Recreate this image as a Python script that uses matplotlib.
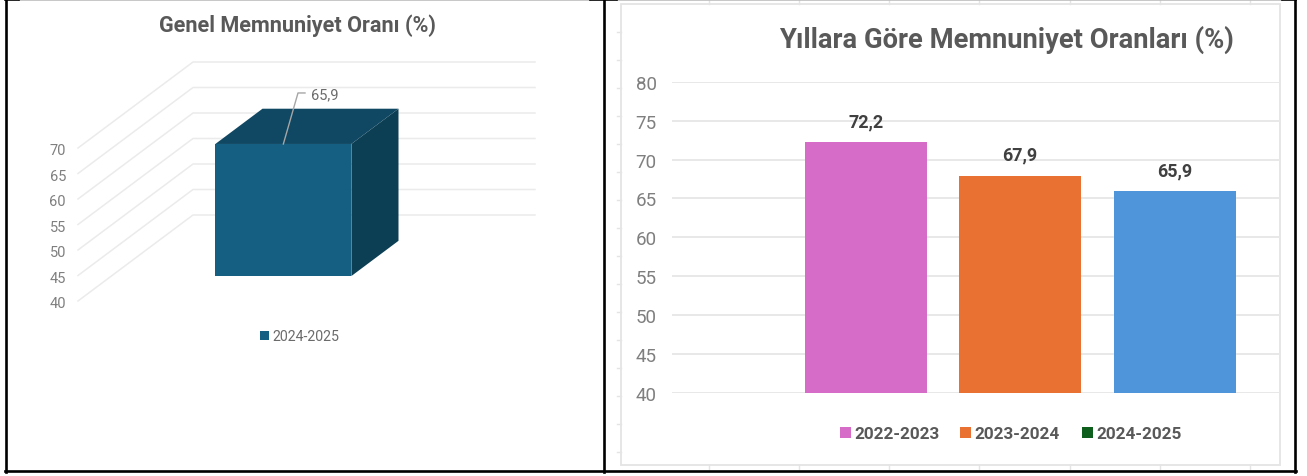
import matplotlib
matplotlib.use("Agg")
import matplotlib.pyplot as plt
from matplotlib.lines import Line2D
from matplotlib.patches import Polygon, Rectangle

# Data
left_title = "Genel Memnuniyet Oranı (%)"
left_ticks = [40, 45, 50, 55, 60, 65, 70]
left_year = "2024-2025"
left_value = 65.9
left_label = "65,9"

right_title = "Yıllara Göre Memnuniyet Oranları (%)"
right_ticks = [40, 45, 50, 55, 60, 65, 70, 75, 80]
years = ["2022-2023", "2023-2024", "2024-2025"]
values = [72.2, 67.9, 65.9]
value_labels = ["72,2", "67,9", "65,9"]

W, H = 1307, 477
plt.rcParams["font.family"] = ["Roboto", "DejaVu Sans"]
fig = plt.figure(figsize=(W / 100, H / 100), dpi=100, facecolor="white")


def make_axes(x0, y0, x1, y1):
    # pixel box, y measured from the top
    return fig.add_axes([x0 / W, 1 - y1 / H, (x1 - x0) / W, (y1 - y0) / H])


def fig_line(xs, ys, color, lw):
    fig.add_artist(Line2D([x / W for x in xs], [1 - y / H for y in ys], color=color, lw=lw))


# --------------------------------------------------
# Left chart : 3D looking column
# --------------------------------------------------
ax = make_axes(78, 61, 535, 302)
ax.set_xlim(78, 535)
ax.set_ylim(40, 40 + 241 / 5.1)
ax.axis("off")

depth_x = 115
depth_y = 86 / 5.1


def wall(x, value, depth):
    return x + depth * depth_x, value + depth * depth_y


for t in left_ticks:
    x0, y0 = wall(78, t, 0)
    x1, y1 = wall(78, t, 1)
    ax.plot([x0, x1, 535], [y0, y1, y1], color="#ebebeb", lw=1.1, zorder=1, clip_on=False)
    ax.text(66, t - 0.45, str(t), ha="right", va="center", fontsize=10.5, color="#7f7f7f", clip_on=False)

bar_left, bar_right = 182, 318
d0, d1 = 0.29, 0.70
front = [wall(bar_left, 40, d0), wall(bar_right, 40, d0), wall(bar_right, left_value, d0), wall(bar_left, left_value, d0)]
side = [wall(bar_right, 40, d0), wall(bar_right, 40, d1), wall(bar_right, left_value, d1), wall(bar_right, left_value, d0)]
top = [wall(bar_left, left_value, d0), wall(bar_right, left_value, d0), wall(bar_right, left_value, d1), wall(bar_left, left_value, d1)]
ax.add_patch(Polygon(side, fc="#0c3f53", ec="none", zorder=2))
ax.add_patch(Polygon(top, fc="#104762", ec="none", zorder=2))
ax.add_patch(Polygon(front, fc="#156082", ec="none", zorder=3))

# leader from the front edge of the column up to its label
mid = (front[2][0] + front[3][0]) / 2
label_y = front[2][1] + 10
ax.plot([mid, 298, 305], [front[2][1], label_y, label_y], color="#a6a6a6", lw=1, zorder=4, clip_on=False)
ax.text(311, label_y - 0.2, left_label, ha="left", va="center", fontsize=10.5, color="#6b6b6b", clip_on=False)

fig.text(297 / W, 1 - 26 / H, left_title, ha="center", va="center", fontsize=15.6,
         fontweight="bold", color="#595959")
fig.patches.append(Rectangle((260 / W, 1 - 341 / H), 9 / W, 9 / H, transform=fig.transFigure, fc="#156082", ec="none"))
fig.text(272 / W, 1 - 337 / H, left_year, ha="left", va="center", fontsize=10.2, color="#6b6b6b")

# --------------------------------------------------
# Right chart : plain bars
# --------------------------------------------------
fig.patches.append(Rectangle((621 / W, 1 - 466 / H), 659 / W, 461 / H, transform=fig.transFigure,
                             fc="white", ec="#e4e4e4", lw=1.3, zorder=-1))
for y in range(33, 460, 28):
    fig_line([617, 621], [y, y], "#e4e4e4", 1)
for x in [709, 799, 889, 979, 1070, 1160, 1250]:
    fig_line([x, x], [1, 5], "#e4e4e4", 1)
    fig_line([x, x], [466, 470], "#e4e4e4", 1)

ax2 = make_axes(672, 82.7, 1280, 394)
ax2.set_xlim(672, 1280)
ax2.set_ylim(40, 80)
ax2.set_facecolor("none")
for s in ax2.spines.values():
    s.set_visible(False)
ax2.set_yticks(right_ticks)
ax2.tick_params(axis="y", length=0, pad=11, labelsize=13.5, labelcolor="#7f7f7f")
ax2.set_xticks([])
ax2.grid(axis="y", color="#e8e8e8", lw=1.4, zorder=0)
ax2.set_axisbelow(True)

positions = [866, 1020, 1174.5]
colors = ["#d76cc8", "#e97132", "#4e95d9"]
bars = ax2.bar(positions, [v - 40 for v in values], bottom=40, width=122, color=colors, zorder=2)
for p, v, lab in zip(positions, values, value_labels):
    ax2.text(p, v + 2.75, lab, ha="center", va="center", fontsize=13, fontweight="bold", color="#404040")

fig.text(1006 / W, 1 - 39.5 / H, right_title, ha="center", va="center", fontsize=19.7,
         fontweight="bold", color="#595959")

legend_colors = ["#d76cc8", "#e97132", "#0e5f1e"]
legend_x = [840, 960, 1082]
for x, c, y in zip(legend_x, legend_colors, years):
    fig.patches.append(Rectangle((x / W, 1 - 439 / H), 11 / W, 11 / H, transform=fig.transFigure, fc=c, ec="none"))
    fig.text((x + 14) / W, 1 - 434.5 / H, y, ha="left", va="center", fontsize=12.3,
             fontweight="bold", color="#595959")

# --------------------------------------------------
# Black table borders
# --------------------------------------------------
fig_line([6, 6], [0, 473], "black", 1.9)
fig_line([604, 604], [0, 473], "black", 1.9)
fig_line([1295, 1295], [0, 473], "black", 1.9)
fig_line([5, 1296], [472, 472], "black", 1.9)
fig_line([19, 590], [0.5, 0.5], "#bdbdbd", 1.2)
fig_line([617, 1282], [0.5, 0.5], "#bdbdbd", 1.2)
for a, b in [(5, 19), (590, 617), (1282, 1296)]:
    fig_line([a, b], [0.5, 0.5], "black", 1.2)

fig.savefig("out.png", dpi=100)
